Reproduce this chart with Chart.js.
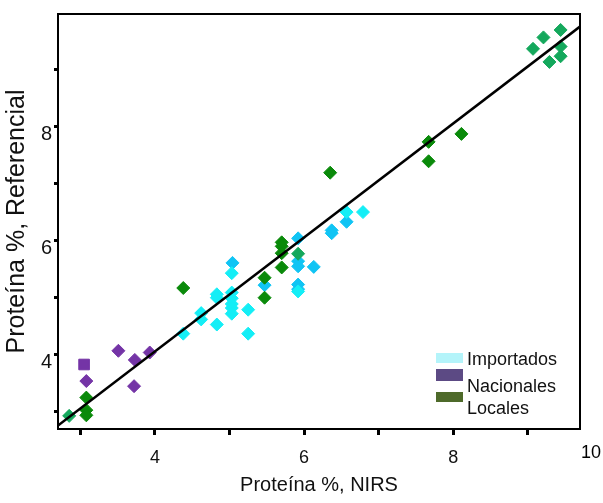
<!DOCTYPE html>
<html>
<head>
<meta charset="utf-8">
<script src="https://cdn.jsdelivr.net/npm/chart.js@4/dist/chart.umd.min.js"></script>
<style>
html,body{margin:0;padding:0;background:#fff;}
#wrap{width:603px;height:503px;}
</style>
</head>
<body>
<div id="wrap"><canvas id="c" width="603" height="503"></canvas></div>
<script>
// ---- data (x = NIRS, y = Referencial) ----
const importadosCyan = [
  [4.38,4.37],[4.62,4.73],[4.62,4.62],[4.83,5.06],[4.83,5.00],[4.83,4.53],
  [5.03,5.43],[5.03,5.09],[5.03,4.99],[5.03,4.89],[5.03,4.82],[5.03,4.72],
  [5.25,4.79],[5.25,4.37],[5.92,5.11],[6.57,6.50],[6.79,6.50]
];
const importadosBlue = [
  [5.04,5.61],[5.47,5.22],[5.92,6.04],[5.92,5.64],[5.92,5.55],[5.92,5.23],
  [5.92,5.15],[6.13,5.54],[6.37,6.18],[6.37,6.13],[6.57,6.33]
];
const nacionalesDiamonds = [[3.08,3.54],[3.51,4.07],[3.73,3.91],[3.93,4.04],[3.72,3.45]];
const nacionalesSquare = [[3.05,3.83]];
const localesGreen = [
  [3.08,3.25],[3.08,3.03],[3.08,2.94],[4.38,5.17],[5.47,5.35],[5.47,5.00],
  [5.70,5.97],[5.70,5.90],[5.70,5.78],[5.70,5.53],[6.35,7.19],
  [7.67,7.73],[7.67,7.39],[8.11,7.87]
];
const localesTeal = [
  [2.85,2.93],[5.92,5.77],[9.07,9.36],[9.21,9.56],[9.44,9.69],[9.44,9.40],
  [9.29,9.13],[9.44,9.23]
];
const fitLine = [[2.70,2.76],[9.70,9.75]];
const xTicks = [3,4,5,6,7,8,9];
const yTicks = [3,4,5,6,7,8,9];
const xLabelled = [4,6,8];
const yLabelled = [4,6,8];
const legendLabels = ['Importados','Nacionales','Locales'];
const legendColors = ['#b4f4fa','#5c4a84','#4e6a2a'];

const toXY = a => a.map(p => ({x:p[0], y:p[1]}));
const FONT = "'Liberation Sans', Arial, sans-serif";

const frame = {
  id:'frame',
  afterDatasetsDraw(chart){
    const {ctx, chartArea:a} = chart;
    ctx.save();
    ctx.strokeStyle = '#000';
    ctx.lineWidth = 2;
    ctx.strokeRect(a.left, a.top, a.right - a.left, a.bottom - a.top);
    // "10" tick label at the right edge
    const xs = chart.scales.x;
    ctx.fillStyle = '#000';
    ctx.font = "18px " + FONT;
    ctx.textAlign = 'right';
    ctx.textBaseline = 'middle';
    const px = Math.min(xs.getPixelForValue(10) + 10, chart.width - 2);
    ctx.fillText('10', px, a.bottom + 24);
    // legend
    const lx = a.right - 144, ly = a.bottom - 76;
    const boxY = [0, 16, 39], boxH = [10, 12, 10];
    const txtY = [7.5, 34.5, 56.5];
    ctx.font = "18px " + FONT;
    ctx.textAlign = 'left';
    legendLabels.forEach((lab, i) => {
      ctx.fillStyle = legendColors[i];
      ctx.fillRect(lx, ly + boxY[i], 27, boxH[i]);
      ctx.fillStyle = '#111';
      ctx.fillText(lab, lx + 31, ly + txtY[i]);
    });
    ctx.restore();
  }
};

const pt = (data, color, style, r) => ({
  type:'scatter', data: toXY(data), backgroundColor: color, borderColor: color,
  borderWidth: 1, pointStyle: style, pointRadius: r, pointHoverRadius: r, order: 2
});

new Chart(document.getElementById('c'), {
  type: 'scatter',
  data: {
    datasets: [
      pt(localesGreen, '#0a8a0a', 'rectRot', 6.5),
      pt(localesTeal, '#14a85c', 'rectRot', 6.5),
      pt(nacionalesDiamonds, '#7434a6', 'rectRot', 6.5),
      pt(nacionalesSquare, '#7434a6', 'rect', 7.5),
      pt(importadosCyan, '#14eef6', 'rectRot', 6.5),
      pt(importadosBlue, '#10c4f4', 'rectRot', 6.5),
      { type:'line', data: toXY(fitLine), borderColor:'#000', borderWidth:2.5,
        pointRadius:0, showLine:true, fill:false, order: 1 }
    ]
  },
  options: {
    responsive: false,
    animation: false,
    layout: { padding: { left: 0, top: 6, right: 23, bottom: 0 } },
    plugins: { legend: { display: false }, tooltip: { enabled: false } },
    scales: {
      x: {
        type: 'linear', min: 2.7, max: 9.7,
        afterBuildTicks: s => { s.ticks = xTicks.map(v => ({value: v})); },
        afterFit: s => { s.height = 74; },
        border: { color: '#000', width: 2 },
        grid: { drawOnChartArea: false, drawTicks: true, tickLength: 6, tickWidth: 3, tickColor: '#000' },
        ticks: { color: '#111', font: { family: FONT, size: 18 }, padding: 12, maxRotation: 0,
          callback: v => xLabelled.includes(v) ? String(v) : '' },
        title: { display: true, text: 'Proteína %, NIRS', color: '#111',
          font: { family: FONT, size: 20 }, padding: { top: 0, bottom: 6 } }
      },
      y: {
        type: 'linear', min: 2.7, max: 9.97,
        afterBuildTicks: s => { s.ticks = yTicks.map(v => ({value: v})); },
        afterFit: s => { s.width = 58; },
        border: { color: '#000', width: 2 },
        grid: { drawOnChartArea: false, drawTicks: true, tickLength: 4, tickWidth: 3, tickColor: '#000' },
        ticks: { color: '#111', font: { family: FONT, size: 20 }, padding: 2, labelOffset: 8,
          callback: v => yLabelled.includes(v) ? String(v) : '' },
        title: { display: true, text: 'Proteína %, Referencial', color: '#111',
          font: { family: FONT, size: 25 }, padding: { top: 2, bottom: 2 } }
      }
    }
  },
  plugins: [frame]
});
</script>
</body>
</html>
